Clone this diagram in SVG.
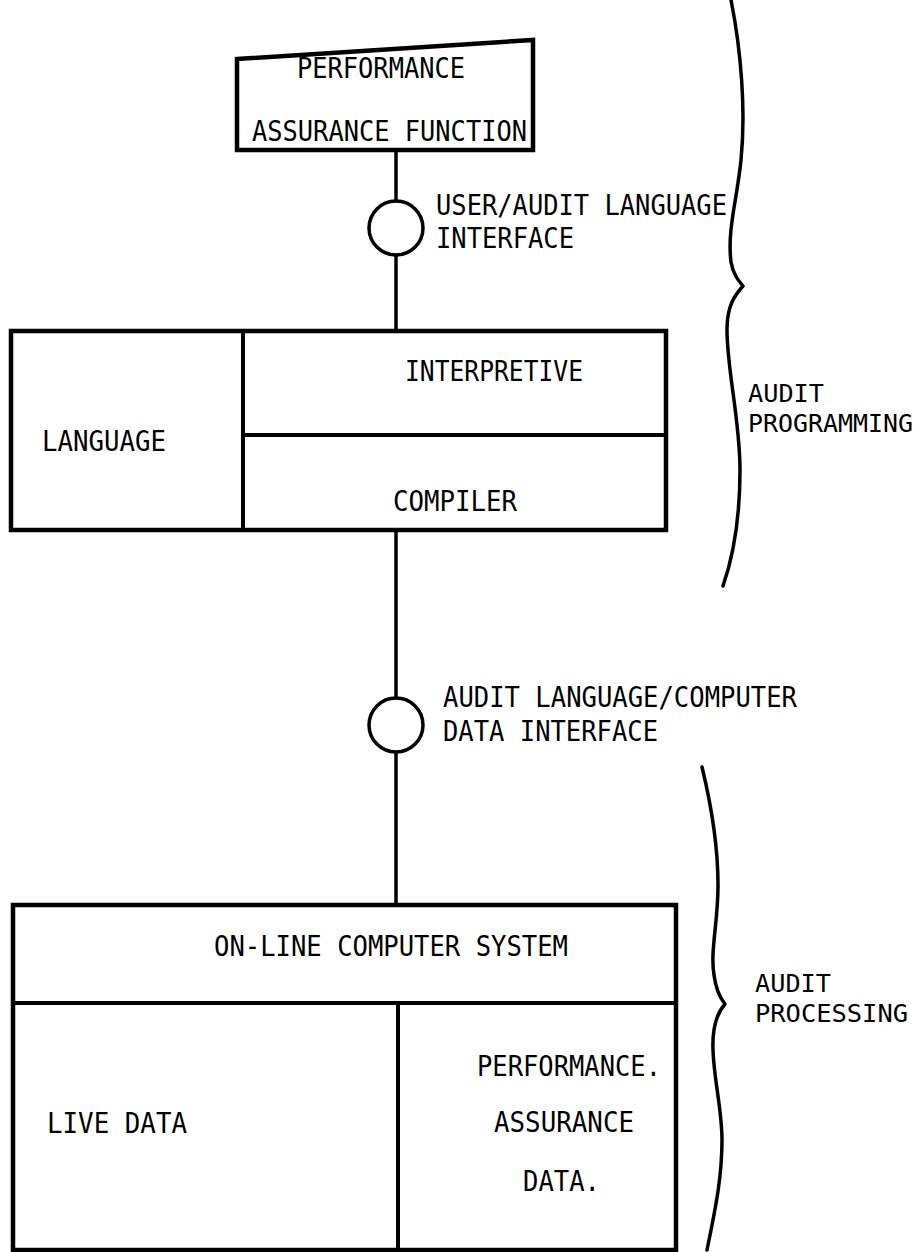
<svg xmlns="http://www.w3.org/2000/svg" width="922" height="1252" viewBox="0 0 922 1252">
<style>
.box{fill:none;stroke:#000;stroke-width:4.5;stroke-linejoin:miter}
.div{fill:none;stroke:#000;stroke-width:4}
.con{fill:none;stroke:#000;stroke-width:3.5}
.ifc{fill:#fff;stroke:#000;stroke-width:3.5}
.brace{fill:none;stroke:#000;stroke-width:3.5;stroke-linecap:round;stroke-linejoin:round}
text{font-family:"DejaVu Sans Mono","Liberation Mono",monospace;font-size:28px;fill:#000}
text.side{font-size:25px}
</style>
<rect width="922" height="1252" fill="#fff"/>
<g id="connectors">
<line class="con" x1="396" y1="150" x2="396" y2="201"/>
<line class="con" x1="396" y1="255" x2="396" y2="330"/>
<line class="con" x1="396" y1="530" x2="396" y2="698"/>
<line class="con" x1="396" y1="752" x2="396" y2="905"/>
</g>
<g id="performance-assurance-function">
<polygon class="box" points="237,59 533,40 533,150 237,150"/>
<text x="297" y="78" textLength="168" lengthAdjust="spacingAndGlyphs">PERFORMANCE</text>
<text x="252" y="141" textLength="275" lengthAdjust="spacingAndGlyphs">ASSURANCE FUNCTION</text>
</g>
<g id="user-audit-interface">
<circle class="ifc" cx="396" cy="228" r="27"/>
<text x="436" y="215" textLength="291" lengthAdjust="spacingAndGlyphs">USER/AUDIT LANGUAGE</text>
<text x="436" y="248" textLength="138" lengthAdjust="spacingAndGlyphs">INTERFACE</text>
</g>
<g id="language">
<rect class="box" x="11" y="331" width="655" height="199"/>
<line class="div" x1="243" y1="331" x2="243" y2="530"/>
<line class="div" x1="243" y1="435" x2="666" y2="435"/>
<text x="42" y="451" textLength="124" lengthAdjust="spacingAndGlyphs">LANGUAGE</text>
<text x="405" y="381" textLength="178" lengthAdjust="spacingAndGlyphs">INTERPRETIVE</text>
<text x="393" y="511" textLength="124" lengthAdjust="spacingAndGlyphs">COMPILER</text>
</g>
<g id="audit-computer-interface">
<circle class="ifc" cx="396" cy="725" r="27"/>
<text x="443" y="707" textLength="354" lengthAdjust="spacingAndGlyphs">AUDIT LANGUAGE/COMPUTER</text>
<text x="443" y="741" textLength="215" lengthAdjust="spacingAndGlyphs">DATA INTERFACE</text>
</g>
<g id="online-computer-system">
<rect class="box" x="13" y="905" width="663" height="345"/>
<line class="div" x1="13" y1="1003" x2="676" y2="1003"/>
<line class="div" x1="398" y1="1003" x2="398" y2="1250"/>
<text x="214" y="956" textLength="354" lengthAdjust="spacingAndGlyphs">ON-LINE COMPUTER SYSTEM</text>
<text x="47" y="1133" textLength="140" lengthAdjust="spacingAndGlyphs">LIVE DATA</text>
<text x="477" y="1076" textLength="184" lengthAdjust="spacingAndGlyphs">PERFORMANCE.</text>
<text x="494" y="1132" textLength="140" lengthAdjust="spacingAndGlyphs">ASSURANCE</text>
<text x="523" y="1191" textLength="77" lengthAdjust="spacingAndGlyphs">DATA.</text>
</g>
<g id="audit-programming">
<path class="brace" d="M731,0 C741,50 746,110 741,160 C737,200 727,230 731,262 C733,274 738,280 743,286 C735,295 727,305 727,330 C727,370 740,420 740,470 C740,520 732,560 723,586"/>
<text class="side" x="748" y="402" textLength="76" lengthAdjust="spacingAndGlyphs">AUDIT</text>
<text class="side" x="748" y="432" textLength="165" lengthAdjust="spacingAndGlyphs">PROGRAMMING</text>
</g>
<g id="audit-processing">
<path class="brace" d="M702,767 C710,800 718,840 718,885 C718,925 710,950 714,975 C716,990 720,998 725,1004 C718,1012 712,1025 713,1050 C714,1080 722,1110 722,1140 C722,1180 714,1215 707,1250"/>
<text class="side" x="755" y="992" textLength="76" lengthAdjust="spacingAndGlyphs">AUDIT</text>
<text class="side" x="755" y="1022" textLength="153" lengthAdjust="spacingAndGlyphs">PROCESSING</text>
</g>
</svg>
